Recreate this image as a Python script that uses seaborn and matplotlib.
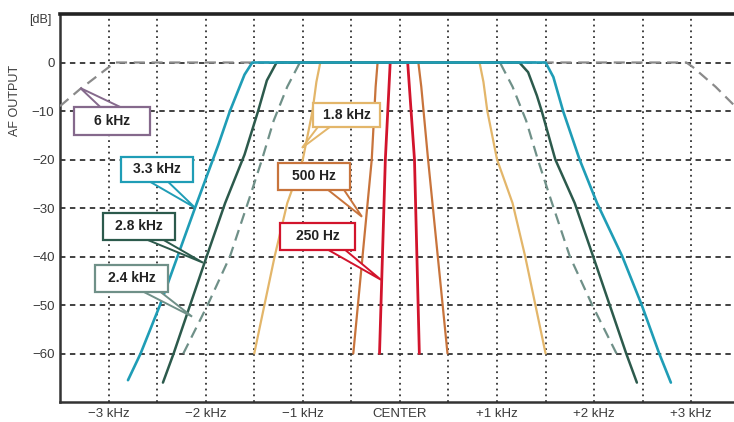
import matplotlib
matplotlib.use("Agg")
import matplotlib.pyplot as plt
from matplotlib.patches import Polygon, Rectangle
import seaborn as sns

sns.set_style("white")
plt.rcParams["font.family"] = ["Liberation Sans", "DejaVu Sans"]

# filter responses: offset from center (kHz) vs AF output (dB)
bw_6k_x = [-3.5, -3.3, -3.0, -2.93, 2.95, 3.02, 3.25, 3.45]
bw_6k_y = [-9, -5.6, -1, 0, 0, -1, -5, -9]

bw_33_x = [-2.8, -2.67, -2.47, -2.29, -2.11, -1.87, -1.75, -1.6, -1.52,
           1.5, 1.58, 1.68, 1.85, 2.03, 2.29, 2.49, 2.67, 2.79]
bw_33_y = [-65.5, -60, -50, -40, -30, -17, -10, -2.5, 0,
           0, -3, -10, -20, -29, -40, -50, -60, -66]

bw_28_x = [-2.44, -2.33, -2.16, -1.99, -1.8, -1.6, -1.46, -1.37, -1.27,
           1.23, 1.32, 1.41, 1.46, 1.6, 1.8, 1.99, 2.16, 2.33, 2.44]
bw_28_y = [-66, -60, -50, -40, -29, -19, -10, -3.7, 0,
           0, -2, -6.8, -10, -20, -29, -40, -50, -60, -66]

bw_24_x = [-2.23, -1.98, -1.75, -1.55, -1.42, -1.3, -1.16, -1.03,
           1.03, 1.16, 1.3, 1.42, 1.55, 1.75, 1.98, 2.23]
bw_24_y = [-60, -50, -40, -28, -20, -12, -5, 0,
           0, -5, -12, -20, -28, -40, -50, -60]

bw_18_x = [-1.5, -1.29, -1.16, -1.0, -0.9, -0.86, -0.82,
           0.82, 0.86, 0.9, 1.0, 1.16, 1.29, 1.5]
bw_18_y = [-60, -40, -29, -20, -10, -4, 0,
           0, -4, -10, -20, -29, -40, -60]

bw_500_x = [-0.48, -0.29, -0.25, -0.23, 0.19, 0.22, 0.29, 0.49]
bw_500_y = [-60, -20, -5, 0, 0, -5, -20, -60]

bw_250_x = [-0.21, -0.15, -0.1, 0.08, 0.15, 0.2]
bw_250_y = [-60, -20, 0, 0, -20, -60]

x_ticks = [-3, -2, -1, 0, 1, 2, 3]
x_tick_labels = ["\u22123 kHz", "\u22122 kHz", "\u22121 kHz", "CENTER",
                 "+1 kHz", "+2 kHz", "+3 kHz"]
y_ticks = [0, -10, -20, -30, -40, -50, -60]
y_tick_labels = ["0", "\u221210", "\u221220", "\u221230", "\u221240", "\u221250", "\u221260"]

curves = [
    (bw_6k_x, bw_6k_y, "#8a8a8a", (0, (5, 3)), 1.6),
    (bw_24_x, bw_24_y, "#6f9088", (0, (5, 3)), 1.6),
    (bw_18_x, bw_18_y, "#e3b66a", "-", 1.6),
    (bw_500_x, bw_500_y, "#c8743c", "-", 1.6),
    (bw_250_x, bw_250_y, "#d2142c", "-", 2.0),
    (bw_28_x, bw_28_y, "#2c5a4c", "-", 1.8),
    (bw_33_x, bw_33_y, "#1f9db6", "-", 1.9),
]

# callouts: text, edge colour, box (x0, x1, y0, y1), pointer base xs, base y, tip
callouts = [
    ("6 kHz", "#85698c", (-3.354, -2.572, -14.92, -9.16), (-3.086, -2.881), -9.16, (-3.292, -5.25)),
    ("3.3 kHz", "#1f9db6", (-2.870, -2.130, -24.6, -19.45), (-2.572, -2.387), -24.6, (-2.109, -29.95)),
    ("2.8 kHz", "#2c5a4c", (-3.056, -2.315, -36.54, -30.98), (-2.603, -2.438), -36.54, (-2.027, -41.28)),
    ("2.4 kHz", "#6f9088", (-3.138, -2.387, -47.24, -41.68), (-2.644, -2.469), -47.24, (-2.140, -52.39)),
    ("1.8 kHz", "#e3b66a", (-0.895, -0.206, -13.28, -8.34), (-0.844, -0.72), -13.28, (-1.008, -17.6)),
    ("500 Hz", "#c8743c", (-1.255, -0.514, -26.25, -20.69), (-0.741, -0.576), -26.25, (-0.391, -31.8)),
    ("250 Hz", "#d2142c", (-1.235, -0.463, -38.6, -33.04), (-0.741, -0.566), -38.6, (-0.195, -44.8)),
]

fig = plt.figure(figsize=(7.34, 4.22), dpi=100)
ax = fig.add_axes([60 / 734, 20 / 422, 674 / 734, 388 / 422])

# grid
for gx in [v * 0.5 for v in range(-6, 7)]:
    ax.axvline(gx, color="#333333", lw=1.3, linestyle=(0, (1, 2.2)), zorder=1)
for gy in y_ticks:
    ax.axhline(gy, color="#333333", lw=1.3, linestyle=(0, (3, 2.5)), zorder=1)

for xs, ys, col, ls, lw in curves:
    sns.lineplot(x=xs, y=ys, ax=ax, color=col, linestyle=ls, lw=lw,
                 sort=False, estimator=None, zorder=3)

for text, col, (x0, x1, y0, y1), (bx0, bx1), by, tip in callouts:
    ax.add_patch(Polygon([(bx0, by), tip, (bx1, by)], closed=True, fc="white",
                         ec=col, lw=1.4, zorder=5))
    ax.add_patch(Rectangle((x0, y0), x1 - x0, y1 - y0, fc="white", ec=col,
                           lw=1.6, zorder=6))
    ax.text((x0 + x1) / 2, (y0 + y1) / 2, text, ha="center", va="center",
            fontsize=10, fontweight="bold", color="#222222", zorder=7)

ax.set_xlim(-3.5, 3.44)
ax.set_ylim(-70, 10)
ax.set_xticks(x_ticks)
ax.set_xticklabels(x_tick_labels, fontsize=9.5, color="#3a3a3a")
ax.set_yticks(y_ticks)
ax.set_yticklabels(y_tick_labels, fontsize=9.5, color="#3a3a3a")
ax.tick_params(length=0, pad=4)

for side in ["left", "bottom"]:
    ax.spines[side].set_color("#333333")
    ax.spines[side].set_linewidth(1.8)
ax.spines["top"].set_color("#222222")
ax.spines["top"].set_linewidth(2.6)
ax.spines["right"].set_visible(False)

fig.text(40 / 734, 1 - 20 / 422, "[dB]", ha="center", va="center", fontsize=9, color="#3a3a3a")
fig.text(15 / 734, 1 - 100 / 422, "AF OUTPUT", ha="center", va="center",
         rotation=90, fontsize=9, color="#3a3a3a")

fig.savefig("out.png", dpi=100)
